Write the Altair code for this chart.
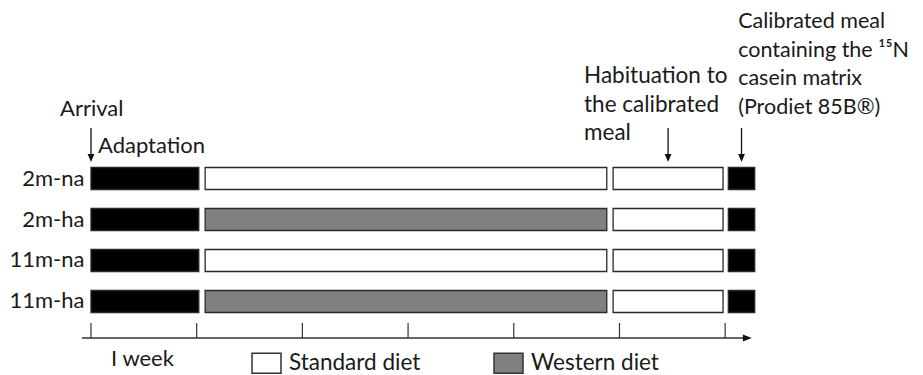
import altair as alt
import pandas as pd

# ---- data -------------------------------------------------------------
groups = ["2m-na", "2m-ha", "11m-na", "11m-ha"]
group_diet = ["Standard diet", "Western diet", "Standard diet", "Western diet"]
phases = ["Adaptation", "Diet", "Habituation", "Test meal"]
phase_start = [0.0, 1.08, 4.94, 6.03]   # weeks
phase_end = [1.02, 4.88, 5.98, 6.28]    # weeks
week_ticks = [0, 1, 2, 3, 4, 5, 6]
arrow_weeks = [0.0, 5.46, 6.155]        # arrival, habituation, calibrated meal

kinds = ["Standard diet", "Western diet", "Adaptation", "Habituation", "Test meal"]
kind_colors = ["#ffffff", "#808080", "#000000", "#ffffff", "#000000"]

arrival_text = "Arrival"
adaptation_text = "Adaptation"
habituation_lines = ["Habituation to", "the calibrated", "meal"]
meal_lines = ["Calibrated meal", "containing the \u00b9\u2075N", "casein matrix", "(Prodiet 85B\u00ae)"]
week_label = "I week"

rows = []
for g, d in zip(groups, group_diet):
    for p, s, e in zip(phases, phase_start, phase_end):
        rows.append(dict(group=g, phase=p, start=s, end=e, kind=d if p == "Diet" else p))
bars_df = pd.DataFrame(rows)

FONT = "Lato"
INK = "#1a1a1a"
xscale = alt.Scale(domain=[0, 6.5], nice=False, zero=False)

bars = alt.Chart(bars_df).mark_bar(stroke="#2a2a2a", strokeWidth=1.3).encode(
    x=alt.X("start:Q", scale=xscale, axis=None),
    x2="end:Q",
    y=alt.Y("group:N", sort=groups,
            scale=alt.Scale(paddingInner=0.463, paddingOuter=0.2317),
            axis=alt.Axis(title=None, domain=False, ticks=False, tickSize=0,
                          labelFont=FONT, labelFontSize=22, labelColor=INK,
                          labelPadding=7)),
    fill=alt.Fill("kind:N", scale=alt.Scale(domain=kinds, range=kind_colors),
                  legend=alt.Legend(values=["Standard diet", "Western diet"],
                                    orient="none", legendX=160, legendY=189.5,
                                    direction="horizontal", title=None,
                                    symbolType="M-1,-0.69H1V0.69H-1Z", symbolSize=841,
                                    symbolStrokeColor="#333", symbolStrokeWidth=1.5,
                                    labelFont=FONT, labelFontSize=22.5, labelColor=INK,
                                    labelOffset=7, columnPadding=70, padding=0)),
)

one = pd.DataFrame({"k": [0]})

ticks = alt.Chart(pd.DataFrame({"week": week_ticks})).mark_rule(
    color="#333", strokeWidth=1.2).encode(
    x=alt.X("week:Q", scale=xscale), y=alt.value(165), y2=alt.value(180))

axis_line = alt.Chart(one).mark_rule(color="#333", strokeWidth=1.3).encode(
    x=alt.datum(-0.085), x2=alt.datum(6.19), y=alt.value(180))

axis_head = alt.Chart(one).mark_point(
    shape="M-1,-0.8L1,0L-1,0.8Z", filled=True, size=81, color="#111", opacity=1).encode(
    x=alt.datum(6.21), y=alt.value(180))

arrows_df = pd.DataFrame({"w": arrow_weeks})
arrow_shafts = alt.Chart(arrows_df).mark_rule(color="#111", strokeWidth=1.3).encode(
    x=alt.X("w:Q", scale=xscale), y=alt.value(-30), y2=alt.value(0))
arrow_heads = alt.Chart(arrows_df).mark_point(
    shape="M-0.85,-1L0.85,-1L0,1Z", filled=True, size=64, color="#111", opacity=1).encode(
    x=alt.X("w:Q", scale=xscale), y=alt.value(0))


def label(text, xw, y, size=22, align="left"):
    return alt.Chart(one).mark_text(
        font=FONT, fontSize=size, color=INK, align=align, baseline="alphabetic",
        lineHeight=28.5).encode(x=alt.datum(xw), y=alt.value(y), text=alt.value(text))


texts = [
    label(arrival_text, -0.293, -42),
    label(adaptation_text, 0.066, -5),
    label(habituation_lines, 4.665, -75, 22.5),
    label(meal_lines, 6.123, -130, 21.5),
    label(week_label, 0.487, 208, 22, "center"),
]

chart = alt.layer(bars, ticks, axis_line, axis_head, arrow_shafts, arrow_heads, *texts).properties(
    width=687, height=164,
    padding={"left": 83, "top": 150, "right": 137, "bottom": 53},
    autosize="none",
).configure_view(stroke=None)

chart.save("out.html", embed_options={"renderer": "svg", "actions": False})
